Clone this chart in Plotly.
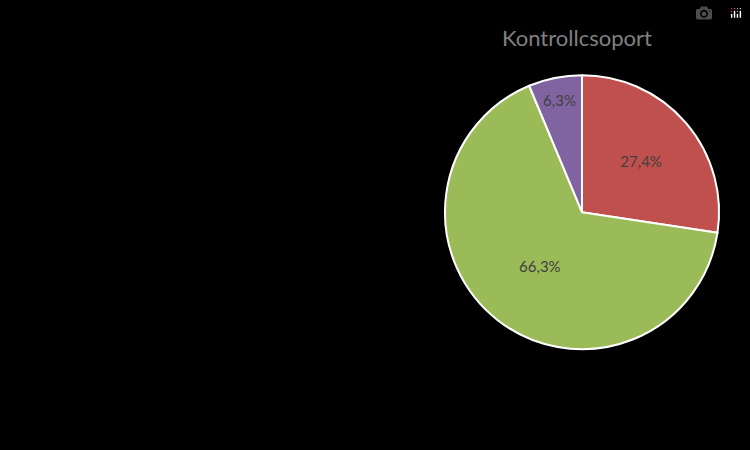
import plotly.graph_objects as go

labels = ["A", "B", "C"]
values = [27.4, 66.3, 6.3]
texts = ["27,4%", "66,3%", "6,3%"]
colors = ["#c0504d", "#9bbb59", "#8064a2"]

fig = go.Figure(go.Pie(
    labels=labels, values=values, text=texts, textinfo="text",
    sort=False, direction="clockwise", rotation=0,
    marker=dict(colors=colors, line=dict(color="white", width=2)),
    textposition="inside", insidetextorientation="horizontal",
    textfont=dict(color="#404040", size=15, family="Lato"),
    domain=dict(x=[0.593, 0.959], y=[0.224, 0.833]),
    showlegend=False, hoverinfo="skip",
))
fig.update_layout(
    width=750, height=450, margin=dict(l=0, r=0, t=0, b=0),
    paper_bgcolor="black", plot_bgcolor="black",
    annotations=[dict(text="Kontrollcsoport", x=577/750, y=1-38/450,
                      xref="paper", yref="paper", showarrow=False,
                      xanchor="center", yanchor="middle",
                      font=dict(size=22, color="#808080", family="Lato"))],
)
fig.write_html("out.html")
with open("out.html", encoding="utf-8") as f:
    html = f.read()
html = html.replace("<head>", "<head><style>html,body{margin:0;padding:0;background:black;overflow:hidden}</style>", 1)
with open("out.html", "w", encoding="utf-8") as f:
    f.write(html)
